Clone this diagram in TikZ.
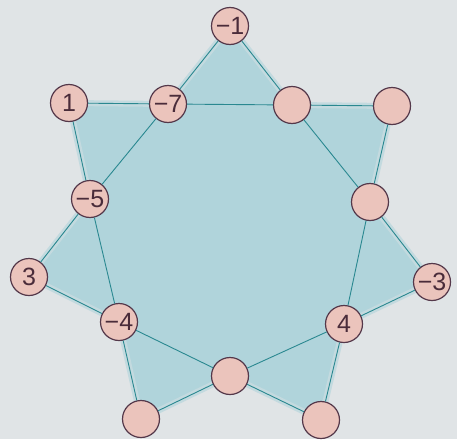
\documentclass[tikz,border=0pt]{standalone}
\usepackage{fontspec}
\setmainfont{Liberation Sans}
\definecolor{bg}{HTML}{E0E4E6}
\definecolor{reg}{HTML}{B0D4DB}
\definecolor{edgec}{HTML}{2A8890}
\definecolor{nodef}{HTML}{EBC4BC}
\definecolor{nodeb}{HTML}{54384A}
\definecolor{txt}{HTML}{4A2C3A}
\tikzset{
  vtx/.style={circle, draw=nodeb, line width=1.2pt, inner sep=0pt,
    minimum size=37pt, fill=nodef, text=txt, font=\fontsize{25}{25}\selectfont},
  lnk/.style={draw=edgec, line width=0.9pt}
}
\begin{document}
\begin{tikzpicture}[x=1pt,y=-1pt]
\fill[bg] (0,0) rectangle (457,439);
\useasboundingbox (0,0) rectangle (457,439);
\coordinate (m1) at (230,26);
\coordinate (n1) at (69,103);
\coordinate (m7) at (168,104);
\coordinate (A) at (292,105);
\coordinate (B) at (392,106);
\coordinate (C) at (370,202);
\coordinate (m5) at (90,199);
\coordinate (p3) at (29,277);
\coordinate (m3) at (432,282);
\coordinate (m4) at (119,322);
\coordinate (p4) at (344,324);
\coordinate (BC) at (230,376);
\coordinate (BL) at (141,419);
\coordinate (BR) at (321,420);
\filldraw[fill=reg, draw=reg!60!bg, line width=6pt, line join=round]
  (m1) -- (A) -- (B) -- (C) -- (m3) -- (p4) -- (BR) -- (BC) -- (BL) -- (m4) -- (p3) -- (m5) -- (n1) -- (m7) -- cycle;
\node[vtx] (vm1) at (m1) {−1};
\node[vtx] (vn1) at (n1) {1};
\node[vtx] (vm7) at (m7) {−7};
\node[vtx] (vA) at (A) {};
\node[vtx] (vB) at (B) {};
\node[vtx] (vC) at (C) {};
\node[vtx] (vm5) at (m5) {−5};
\node[vtx] (vp3) at (p3) {3};
\node[vtx] (vm3) at (m3) {−3};
\node[vtx] (vm4) at (m4) {−4};
\node[vtx] (vp4) at (p4) {4};
\node[vtx] (vBC) at (BC) {};
\node[vtx] (vBL) at (BL) {};
\node[vtx] (vBR) at (BR) {};
\draw[lnk] (vm1) -- (vm7);
\draw[lnk] (vm1) -- (vA);
\draw[lnk] (vn1) -- (vm7);
\draw[lnk] (vm7) -- (vA);
\draw[lnk] (vA) -- (vB);
\draw[lnk] (vn1) -- (vm5);
\draw[lnk] (vm7) -- (vm5);
\draw[lnk] (vA) -- (vC);
\draw[lnk] (vB) -- (vC);
\draw[lnk] (vm5) -- (vp3);
\draw[lnk] (vm5) -- (vm4);
\draw[lnk] (vC) -- (vm3);
\draw[lnk] (vC) -- (vp4);
\draw[lnk] (vp3) -- (vm4);
\draw[lnk] (vm3) -- (vp4);
\draw[lnk] (vm4) -- (vBC);
\draw[lnk] (vp4) -- (vBC);
\draw[lnk] (vm4) -- (vBL);
\draw[lnk] (vBL) -- (vBC);
\draw[lnk] (vp4) -- (vBR);
\draw[lnk] (vBR) -- (vBC);
\end{tikzpicture}
\end{document}
